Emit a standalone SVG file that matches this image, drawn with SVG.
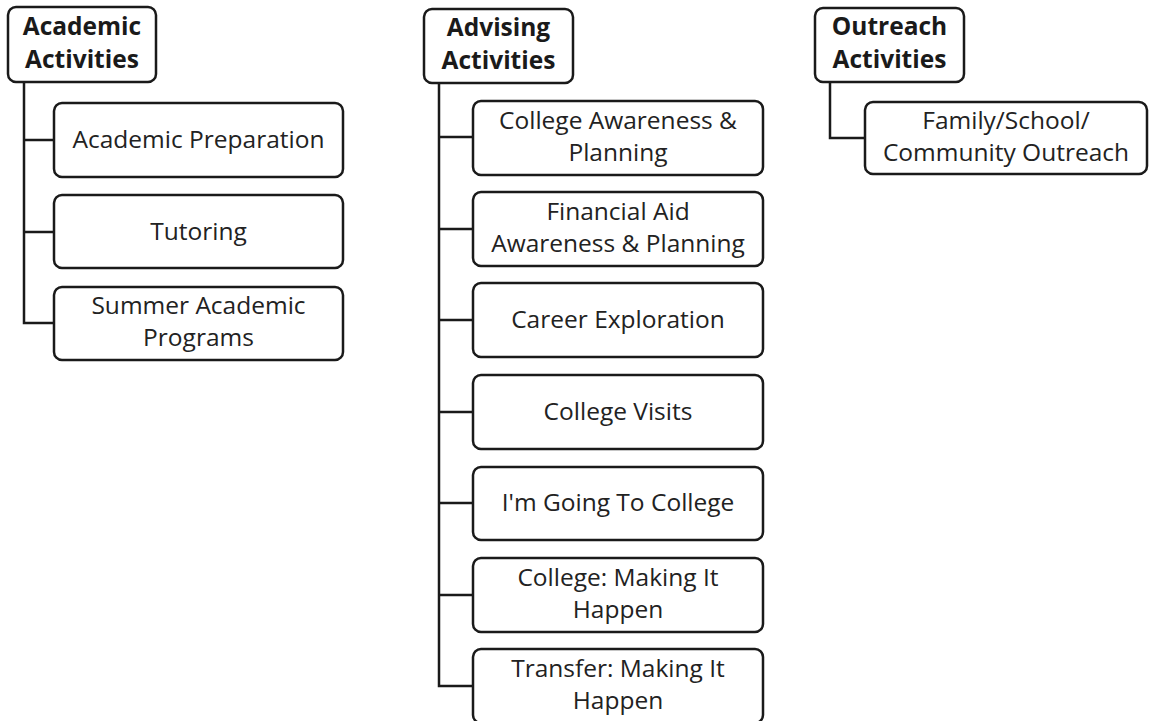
<svg xmlns="http://www.w3.org/2000/svg" width="1150" height="721" viewBox="0 0 1150 721">
<style>
rect{fill:#fff;stroke:#1a1a1a;stroke-width:2.5}
.h{font-family:"Open Sans","Noto Sans",sans-serif;font-weight:bold;font-size:24.5px;fill:#1a1a1a;text-anchor:middle}
.t{font-family:"Open Sans","Noto Sans",sans-serif;font-size:24.5px;fill:#222;text-anchor:middle}
#connectors path{fill:none;stroke:#1a1a1a;stroke-width:2.5}
</style>
<rect x="0" y="0" width="1150" height="721" style="fill:#fff;stroke:none"/>
<g id="connectors">
<path d="M24 82V323H54M24 140H54M24 232H54"/>
<path d="M439 83V686H473M439 137H473M439 229H473M439 320H473M439 412H473M439 503H473M439 595H473"/>
<path d="M830 82V138H865"/>
</g>
<g id="academic"><rect x="8" y="7" width="148" height="75" rx="8"/><text class="h" x="82" y="35">Academic</text><text class="h" x="82" y="68">Activities</text></g>
<g id="academic-prep"><rect x="54" y="103" width="289" height="74" rx="8"/><text class="t" x="198.5" y="148">Academic Preparation</text></g>
<g id="tutoring"><rect x="54" y="195" width="289" height="73" rx="8"/><text class="t" x="198.5" y="240">Tutoring</text></g>
<g id="summer"><rect x="54" y="287" width="289" height="73" rx="8"/><text class="t" x="198.5" y="314">Summer Academic</text><text class="t" x="198.5" y="346">Programs</text></g>
<g id="advising"><rect x="424" y="9" width="149" height="74" rx="8"/><text class="h" x="498.5" y="36">Advising</text><text class="h" x="498.5" y="69">Activities</text></g>
<g id="college-awareness"><rect x="473" y="101" width="290" height="74" rx="8"/><text class="t" x="618" y="129">College Awareness &amp;</text><text class="t" x="618" y="161">Planning</text></g>
<g id="financial-aid"><rect x="473" y="192" width="290" height="74" rx="8"/><text class="t" x="618" y="220">Financial Aid</text><text class="t" x="618" y="252">Awareness &amp; Planning</text></g>
<g id="career"><rect x="473" y="283" width="290" height="74" rx="8"/><text class="t" x="618" y="328">Career Exploration</text></g>
<g id="college-visits"><rect x="473" y="375" width="290" height="74" rx="8"/><text class="t" x="618" y="420">College Visits</text></g>
<g id="going-to-college"><rect x="473" y="467" width="290" height="73" rx="8"/><text class="t" x="618" y="511">I'm Going To College</text></g>
<g id="college-making"><rect x="473" y="558" width="290" height="74" rx="8"/><text class="t" x="618" y="586">College: Making It</text><text class="t" x="618" y="618">Happen</text></g>
<g id="transfer-making"><rect x="473" y="649" width="290" height="74" rx="8"/><text class="t" x="618" y="677">Transfer:  Making It</text><text class="t" x="618" y="709">Happen</text></g>
<g id="outreach"><rect x="815" y="8" width="149" height="74" rx="8"/><text class="h" x="889.5" y="35">Outreach</text><text class="h" x="889.5" y="68">Activities</text></g>
<g id="family"><rect x="865" y="102" width="282" height="72" rx="8"/><text class="t" x="1006" y="129">Family/School/</text><text class="t" x="1006" y="161">Community Outreach</text></g>
</svg>
